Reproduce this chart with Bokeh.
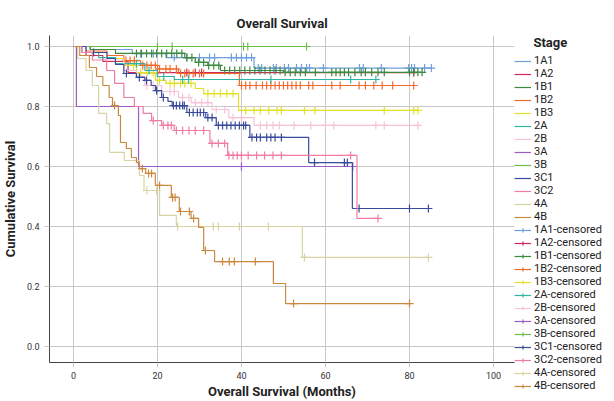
import numpy as np
from bokeh.plotting import figure
from bokeh.models import Legend, LegendItem, FixedTicker, Range1d, NumeralTickFormatter
from bokeh.embed import file_html
from bokeh.resources import INLINE

# ---------------- data ----------------
stages = ["1A1", "1A2", "1B1", "1B2", "1B3", "2A", "2B", "3A", "3B", "3C1", "3C2", "4A", "4B"]
colors = ["#6f9fd8", "#d02858", "#3b8a3e", "#f26a2c", "#e3e02a", "#2fb3a6", "#f6c2d8",
          "#9c5cc8", "#6cbf46", "#3a4b9c", "#ef7ca4", "#d8d3a2", "#c98a40"]

t_1A1 = [4, 14, 22, 43]
s_1A1 = [0.99, 0.976, 0.963, 0.928]
c_1A1 = [16, 19, 24, 27, 30, 32.4, 33.6, 37.6, 38.8, 40, 41.2, 42.4, 44, 44.8, 47.6, 48.3, 50.2, 51.2,
         53.1, 54.3, 55.5, 56.2, 59.5, 68.1, 69, 73.3, 79.8, 80.5, 81.2, 83.6, 85.2]

t_1A2 = [3, 7, 13]
s_1A2 = [0.97, 0.95, 0.913]
c_1A2 = [20, 27, 29, 30.5, 81]

t_1B1 = [4, 10, 26.5, 29, 32, 35, 50]
s_1B1 = [0.99, 0.977, 0.963, 0.947, 0.937, 0.92, 0.914]
c_1B1 = [15, 16.2, 17.4, 18.6, 19.8, 21, 22.2, 23.4, 24.6, 25.8, 27, 28.2, 29.8, 31, 32.2, 33.4, 34.6,
         36, 37.2, 38.4, 39.6, 40.8, 42, 43.2, 44.4, 45.6, 46.8, 48, 49.2, 50.4, 51.6, 52.8, 54, 55.2,
         57.6, 61.5, 62.5, 63.5, 64.5, 65.5, 67, 68.5, 69.5, 71, 72.5, 74, 80, 81, 82, 83]

t_1B2 = [3, 8, 12, 16, 20, 25, 39.5]
s_1B2 = [0.985, 0.97, 0.953, 0.937, 0.925, 0.91, 0.87]
c_1B2 = [12.5, 13.5, 14.5, 16.5, 17.5, 18.5, 19.5, 20.5, 22, 23, 24.5, 25.5, 26.5, 27.5, 28.5, 30, 31,
         40, 41, 42, 43.5, 45, 46, 47, 48, 49, 50, 51, 52, 53, 54, 56, 57, 61.5, 63.5, 68, 69.5,
         71.5, 73.5, 76, 81]

t_1B3 = [3, 8, 12, 15, 19.5, 22, 29, 31, 39.3]
s_1B3 = [0.98, 0.96, 0.937, 0.913, 0.887, 0.877, 0.86, 0.843, 0.787]
c_1B3 = [14.3, 16, 17.5, 19, 20.5, 23, 24, 25.5, 26.5, 28, 32, 33.5, 35, 36.5, 38, 41, 43, 44.5, 46.5,
         48.5, 49.5, 55, 57.5, 74, 81, 82]

t_2A = [2, 6, 10, 17, 20, 24]
s_2A = [0.98, 0.963, 0.943, 0.92, 0.9, 0.89]
c_2A = [15, 18, 21.5, 26, 27.4, 47, 66, 72]

t_2B = [3, 8, 12, 15, 17, 21, 25, 28, 33, 37, 43]
s_2B = [0.98, 0.955, 0.92, 0.9, 0.87, 0.85, 0.83, 0.813, 0.79, 0.763, 0.737]
c_2B = [17.5, 19, 23, 24, 26, 27.5, 29, 30.5, 32, 34, 36, 38, 40, 44.5, 46, 47.5, 49, 52.5, 56.5,
        60, 62, 72, 74, 82]

t_3A = [0.7, 15.5]
s_3A = [0.8, 0.6]
c_3A = [40, 66.5]

t_3B = []
s_3B = []
c_3B = [20, 23.5, 40.5, 41.5, 55.5]

t_3C1 = [3, 8, 10, 12, 15, 17, 18.5, 19.5, 21, 22.5, 23.5, 27, 31.5, 34, 42, 56, 66.4]
s_3C1 = [0.98, 0.96, 0.94, 0.91, 0.897, 0.887, 0.87, 0.853, 0.83, 0.817, 0.803, 0.78, 0.763, 0.737,
         0.697, 0.613, 0.46]
c_3C1 = [4.8, 12.6, 15.7, 17.4, 19.8, 21.4, 23.8, 24.5, 25.3, 26, 26.4, 27.6, 28.5, 29.5, 30.2, 31, 32,
         33, 34.5, 35.5, 36.5, 37.5, 38.5, 39.5, 40.5, 41, 42.5, 43.6, 44.5, 46, 47, 48, 49.5, 57.4,
         64.5, 65.2, 68, 80, 84.5]

t_3C2 = [2, 4.5, 7.9, 9.8, 12, 14.5, 16.6, 18.6, 21, 24, 32.5, 36.7, 67.5]
s_3C2 = [0.98, 0.955, 0.92, 0.877, 0.83, 0.8, 0.777, 0.753, 0.737, 0.72, 0.677, 0.637, 0.427]
c_3C2 = [19, 21.4, 22.5, 23.3, 24.5, 26, 27.5, 29, 31, 33, 34.5, 36, 37, 38, 39, 40, 41.6, 43.6, 45.5,
         47.5, 49.5, 66, 72.5]

t_4A = [1, 3, 4.5, 6, 7.9, 8.6, 12.1, 15.7, 16.8, 20.5, 24.5, 54.5]
s_4A = [0.96, 0.92, 0.87, 0.777, 0.743, 0.647, 0.62, 0.57, 0.52, 0.437, 0.4, 0.297]
c_4A = [17.5, 19.8, 24.8, 33.3, 34.5, 39.5, 46.4, 55, 84.5]

t_4B = [1.5, 3.8, 5.5, 7, 8.5, 9.3, 10.7, 11.2, 12.6, 13.8, 15, 15.7, 17.2, 19.5, 23.3, 25.2, 28,
        29.8, 31, 33.6, 47.6, 50.5]
s_4B = [0.97, 0.93, 0.9, 0.87, 0.83, 0.803, 0.77, 0.68, 0.66, 0.63, 0.613, 0.593, 0.577, 0.537,
        0.497, 0.45, 0.427, 0.397, 0.32, 0.283, 0.21, 0.143]
c_4B = [9.8, 16.4, 17.9, 18.6, 20.5, 23.6, 24.2, 25.5, 27.6, 28.6, 31.4, 35.5, 37.1, 38.3, 43.3, 52.4, 80]

x_ticks = [0, 20, 40, 60, 80, 100]
y_ticks = [0.0, 0.2, 0.4, 0.6, 0.8, 1.0]

series = [
    (t_1A1, s_1A1, c_1A1), (t_1A2, s_1A2, c_1A2), (t_1B1, s_1B1, c_1B1), (t_1B2, s_1B2, c_1B2),
    (t_1B3, s_1B3, c_1B3), (t_2A, s_2A, c_2A), (t_2B, s_2B, c_2B), (t_3A, s_3A, c_3A),
    (t_3B, s_3B, c_3B), (t_3C1, s_3C1, c_3C1), (t_3C2, s_3C2, c_3C2), (t_4A, s_4A, c_4A),
    (t_4B, s_4B, c_4B),
]

FONT = "Roboto"

p = figure(frame_width=465, frame_height=327,
           x_range=Range1d(-5.7, 105), y_range=Range1d(-0.0533, 1.0367),
           output_backend="svg", toolbar_location=None,
           min_border_left=0, min_border_right=4, min_border_top=35, min_border_bottom=0,
           title="Overall Survival")
p.title.align = "center"
p.title.text_font = FONT
p.title.text_font_size = "13px"
p.title.text_font_style = "bold"
p.title.text_color = "#222222"
p.outline_line_color = None
p.background_fill_color = "white"

for ax in (p.xaxis, p.yaxis):
    ax.axis_line_color = "#444444"
    ax.axis_line_width = 1
    ax.major_tick_line_color = "#c8c8c8"
    ax.major_tick_in = 0
    ax.major_tick_out = 5
    ax.minor_tick_line_color = None
    ax.major_label_text_font = FONT
    ax.major_label_text_font_size = "9px"
    ax.major_label_text_color = "#333333"
    ax.axis_label_text_font = FONT
    ax.axis_label_text_font_size = "13px"
    ax.axis_label_text_font_style = "bold"
    ax.axis_label_text_color = "#222222"

p.xaxis.ticker = FixedTicker(ticks=x_ticks)
p.yaxis.ticker = FixedTicker(ticks=y_ticks)
p.yaxis.formatter = NumeralTickFormatter(format="0.0")
p.xaxis.axis_label = "Overall Survival (Months)"
p.yaxis.axis_label = "Cumulative Survival"
p.xaxis.major_label_standoff = 4
p.xaxis.axis_label_standoff = 2
p.yaxis.major_label_standoff = 5
p.yaxis.axis_label_standoff = 6

p.xgrid.grid_line_color = "#c8c8c8"
p.ygrid.grid_line_color = "#c8c8c8"

line_items = []
cens_items = []
for name, col, (t, s, c) in zip(stages, colors, series):
    end = max(c) if len(c) else (t[-1] if t else 0)
    xs = [0.0] + list(t) + [end]
    ys = [1.0] + list(s) + [s[-1] if s else 1.0]
    r_line = p.step(xs, ys, mode="after", line_color=col, line_width=1.2)
    tt = np.array([0.0] + list(t))
    ss = np.array([1.0] + list(s))
    idx = np.searchsorted(tt, np.array(c, dtype=float), side="right") - 1
    cy = ss[idx]
    r_c = p.scatter(c, cy, marker="cross", size=8, line_color=col, line_width=1.2)
    line_items.append(LegendItem(label=name, renderers=[r_line]))
    cens_items.append(LegendItem(label=name + "-censored", renderers=[r_line, r_c]))

legend = Legend(items=line_items + cens_items, location="top_left",
                title="\u00a0\u00a0\u00a0\u00a0\u00a0\u00a0Stage", title_text_font=FONT,
                title_text_font_size="13px",
                title_text_font_style="bold", title_text_color="#222222", title_standoff=4,
                label_text_font=FONT, label_text_font_size="11px", label_text_color="#222222",
                label_text_line_height=1.0,
                glyph_width=17, glyph_height=10, label_height=10, spacing=0,
                label_standoff=3, padding=0, margin=0,
                border_line_color=None, background_fill_alpha=0)
p.add_layout(legend, "right")

open("out.html", "w").write(file_html(p, INLINE))
